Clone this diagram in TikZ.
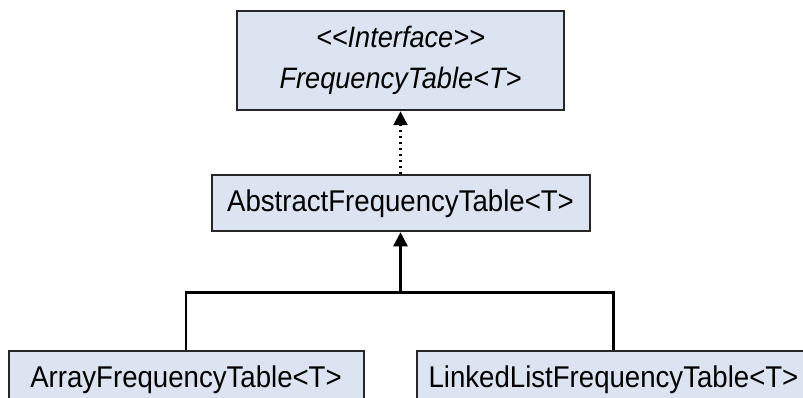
\documentclass[tikz,border=0pt]{standalone}
\usepackage{fontspec}
\setmainfont{Liberation Sans}[FakeStretch=0.92]
\usetikzlibrary{shapes,arrows.meta,positioning}
\definecolor{boxblue}{HTML}{DBE4F0}

\begin{document}
\begin{tikzpicture}[node distance=2.5cm, thick]
    % Styles
    \tikzstyle{class_box} = [rectangle, draw=black!85, line width=2pt, fill=boxblue, inner sep=0pt, minimum height=56pt, font=\fontsize{30}{41}\selectfont]
    \tikzstyle{iface_box} = [class_box, line width=2.5pt, minimum width=327pt, minimum height=99pt, align=center, font=\fontsize{29.5}{41}\selectfont\itshape]
    \tikzstyle{arrow} = [-{Triangle[length=14pt,width=14pt]}, line width=2.5pt]
    \tikzstyle{link} = [line width=2.5pt]

    \useasboundingbox (0,0) rectangle (803pt,-398pt);

    % Interface and abstract class
    \node [iface_box] (freq) at (400.5pt,-60.5pt) {<\kern0pt<Interface>\kern0pt>\\FrequencyTable<T>};
    \node [class_box, minimum width=378pt, below=63pt of freq] (abs) {AbstractFrequencyTable<T>};

    % Concrete classes
    \node [class_box, minimum width=355pt, below=118pt of abs, xshift=-214.5pt] (arr) {ArrayFrequencyTable<T>};
    \node [class_box, minimum width=394pt, below=118pt of abs, xshift=213pt] (lnk) {LinkedListFrequencyTable<T>};

    % Connections
    \draw [arrow, dash pattern=on 2.5pt off 3.5pt] (abs) -- (freq);
    \coordinate [below=60pt of abs] (junc);
    \draw [link] (arr.north) |- (junc) -| (lnk.north);
    \draw [arrow] (junc) -- (abs);

\end{tikzpicture}
\end{document}
